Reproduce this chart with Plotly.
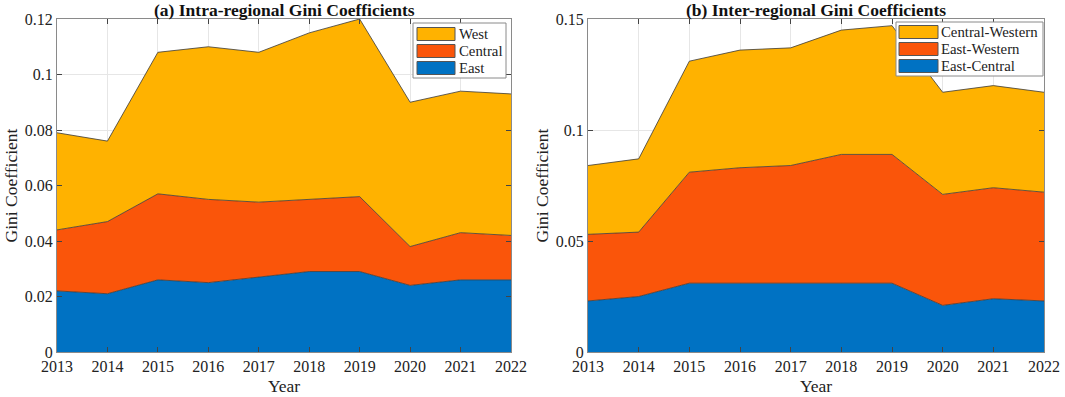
import plotly.graph_objects as go
from plotly.subplots import make_subplots

years = [2013, 2014, 2015, 2016, 2017, 2018, 2019, 2020, 2021, 2022]

# (a) Intra-regional
east = [0.022, 0.021, 0.026, 0.025, 0.027, 0.029, 0.029, 0.024, 0.026, 0.026]
central = [0.022, 0.026, 0.031, 0.030, 0.027, 0.026, 0.027, 0.014, 0.017, 0.016]
west = [0.035, 0.029, 0.051, 0.055, 0.054, 0.060, 0.064, 0.052, 0.051, 0.051]

# (b) Inter-regional
east_central = [0.023, 0.025, 0.031, 0.031, 0.031, 0.031, 0.031, 0.021, 0.024, 0.023]
east_western = [0.030, 0.029, 0.050, 0.052, 0.053, 0.058, 0.058, 0.050, 0.050, 0.049]
central_western = [0.031, 0.033, 0.050, 0.053, 0.053, 0.056, 0.058, 0.046, 0.046, 0.045]

y_ticks_a = [0, 0.02, 0.04, 0.06, 0.08, 0.1, 0.12]
y_ticks_b = [0, 0.05, 0.1, 0.15]

C_BLUE = "#0072C3"
C_RED = "#FA550A"
C_YEL = "#FFB200"
EDGE = "#3a3a3a"
FONT = "Liberation Serif"

W, H = 1065, 397
ML, MR, MT, MB = 57, 21, 19, 45
PW = W - ML - MR
PH = H - MT - MB


def px_x(px):
    return (px - ML) / PW


def px_y(py):
    return (H - MB - py) / PH


fig = make_subplots(rows=1, cols=2)

series_a = [("East", east, C_BLUE), ("Central", central, C_RED), ("West", west, C_YEL)]
series_b = [("East-Central", east_central, C_BLUE), ("East-Western", east_western, C_RED),
            ("Central-Western", central_western, C_YEL)]


def add_stack(series, col, sg):
    for name, vals, color in series:
        fig.add_trace(go.Scatter(
            x=years, y=vals, name=name, mode="lines", stackgroup=sg,
            line=dict(color=EDGE, width=0.8), fillcolor=color,
            showlegend=False, hoverinfo="x+y+name"), row=1, col=col)


add_stack(series_a, 1, "a")
add_stack(series_b, 2, "b")

axis_common = dict(showline=True, linecolor="#8a8a8a", linewidth=1, mirror="ticks",
                   ticks="inside", ticklen=5, tickcolor="#444", showgrid=True,
                   gridcolor="#e6e6e6", gridwidth=1, zeroline=False, automargin=False,
                   tickfont=dict(family=FONT, size=16, color="#222"))

fig.update_xaxes(axis_common, range=[2013, 2022], tickvals=years,
                 title=dict(text="Year", font=dict(family=FONT, size=17.5, color="#222"), standoff=5))
fig.update_xaxes(domain=[0, px_x(511)], row=1, col=1)
fig.update_xaxes(domain=[px_x(588), 1], row=1, col=2)
fig.update_yaxes(axis_common, title=dict(text="Gini Coefficient", font=dict(family=FONT, size=17.5, color="#222"), standoff=2),
                 domain=[0, 1])
fig.update_yaxes(range=[0, 0.12], tickvals=y_ticks_a, ticktext=[f"{v:g}" for v in y_ticks_a], row=1, col=1)
fig.update_yaxes(range=[0, 0.15], tickvals=y_ticks_b, ticktext=[f"{v:g}" for v in y_ticks_b], row=1, col=2)

shapes = []
annotations = []


def manual_legend(series, box, rows, sw_x, text_x):
    x0, x1, y0, y1 = box
    shapes.append(dict(type="rect", xref="paper", yref="paper",
                       x0=px_x(x0), x1=px_x(x1), y0=px_y(y0), y1=px_y(y1),
                       fillcolor="white", line=dict(color="#8a8a8a", width=1), layer="above"))
    for (name, _vals, color), cy in zip(reversed(series), rows):
        shapes.append(dict(type="rect", xref="paper", yref="paper",
                           x0=px_x(sw_x[0]), x1=px_x(sw_x[1]), y0=px_y(cy - 6.5), y1=px_y(cy + 6.5),
                           fillcolor=color, line=dict(color="#555", width=1), layer="above"))
        annotations.append(dict(text=name, x=px_x(text_x), y=px_y(cy), xref="paper", yref="paper",
                                xanchor="left", yanchor="middle", showarrow=False,
                                font=dict(family=FONT, size=14.8, color="#222")))


manual_legend(series_a, (413, 506, 23, 78), (34, 51, 68), (417, 455), 457)
manual_legend(series_b, (896, 1043, 22, 76), (32, 49, 66), (899, 938), 939)

annotations += [
    dict(text="<b>(a) Intra-regional Gini Coefficients</b>", x=px_x((57 + 511) / 2), y=px_y(10),
         xref="paper", yref="paper", showarrow=False, xanchor="center", yanchor="middle",
         font=dict(family=FONT, size=17.5, color="#111")),
    dict(text="<b>(b) Inter-regional Gini Coefficients</b>", x=px_x((588 + 1044) / 2), y=px_y(10),
         xref="paper", yref="paper", showarrow=False, xanchor="center", yanchor="middle",
         font=dict(family=FONT, size=17.5, color="#111")),
]

fig.update_layout(
    width=W, height=H, margin=dict(l=ML, r=MR, t=MT, b=MB, autoexpand=False),
    plot_bgcolor="white", paper_bgcolor="white",
    shapes=shapes, annotations=annotations,
)

fig.write_html("out.html", config={"displayModeBar": False},
               post_script="document.body.style.margin='0';")
